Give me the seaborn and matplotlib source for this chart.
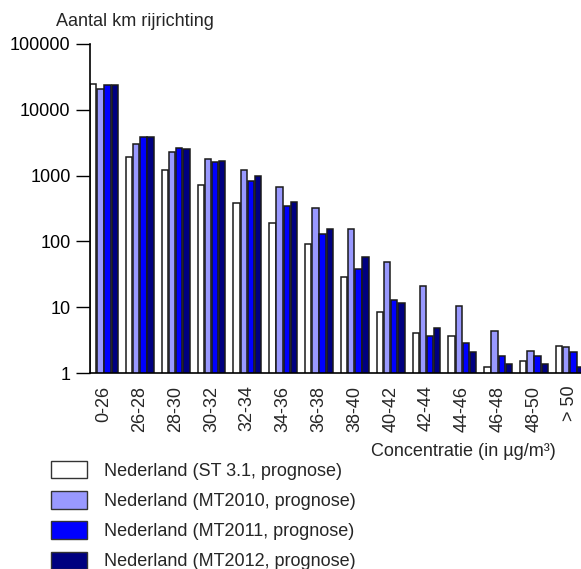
import matplotlib
matplotlib.use("Agg")
import matplotlib.pyplot as plt
import numpy as np
import pandas as pd
import seaborn as sns

# Data
categories = ["0-26", "26-28", "28-30", "30-32", "32-34", "34-36", "36-38",
              "38-40", "40-42", "42-44", "44-46", "46-48", "48-50", "> 50"]
series_names = ["Nederland (ST 3.1, prognose)", "Nederland (MT2010, prognose)",
                "Nederland (MT2011, prognose)", "Nederland (MT2012, prognose)"]
st31 = [25000, 1900, 1220, 710, 380, 190, 92, 29, 8.5, 4.0, 3.7, 1.22, 1.54, 2.56]
mt2010 = [20500, 3000, 2250, 1800, 1200, 660, 320, 154, 49, 21, 10.4, 4.4, 2.17, 2.45]
mt2011 = [23500, 3800, 2600, 1590, 840, 340, 128, 38, 13, 3.7, 2.9, 1.83, 1.83, 2.08]
mt2012 = [24000, 3800, 2550, 1650, 980, 400, 155, 58, 11.4, 4.9, 2.08, 1.35, 1.35, 1.22]
colors = ["#FFFFFF", "#9999FF", "#0000FF", "#000080"]
ytick_values = [1, 10, 100, 1000, 10000, 100000]


def main():
    df = pd.DataFrame({
        "cat": categories * 4,
        "serie": np.repeat(series_names, len(categories)),
        "waarde": st31 + mt2010 + mt2011 + mt2012,
    })

    sns.set_style("ticks")
    plt.rcParams["font.family"] = ["Liberation Sans", "DejaVu Sans"]
    fs = 13

    fig = plt.figure(figsize=(5.81, 5.69), dpi=100)
    ax = fig.add_axes([90 / 581, 1 - 373 / 569, 1 - 90 / 581, (373 - 44) / 569])
    ax.set_yscale("log")
    sns.barplot(data=df, x="cat", y="waarde", hue="serie", palette=colors,
                order=categories, hue_order=series_names, width=0.8, gap=0.12,
                edgecolor="#1a1a1a", linewidth=1.1, saturation=1, ax=ax,
                legend=False)

    ax.set_ylim(1, 100000)
    ax.set_xlim(-0.39, 13.31)
    ax.set_yticks(ytick_values)
    ax.set_yticklabels([str(v) for v in ytick_values], fontsize=fs)
    ax.yaxis.set_minor_locator(matplotlib.ticker.NullLocator())
    ax.tick_params(axis="y", length=10, width=1, pad=4, colors="black")
    ax.tick_params(axis="x", length=0, pad=9, labelsize=fs, labelrotation=90)
    ax.set_xlabel("")
    ax.set_ylabel("")
    sns.despine(ax=ax, top=True, right=True)
    for s in ["left", "bottom"]:
        ax.spines[s].set_linewidth(1.2)
        ax.spines[s].set_color("black")

    fig.text(135 / 581, 1 - 21 / 569, "Aantal km rijrichting", ha="center",
             va="center", fontsize=fs)
    fig.text(556 / 581, 1 - 452 / 569, "Concentratie (in µg/m³)", ha="right",
             va="center", fontsize=fs)

    handles = [matplotlib.patches.Patch(facecolor=c, edgecolor="#333333", linewidth=1)
               for c in colors]
    fig.legend(handles, series_names, loc="upper left",
               bbox_to_anchor=(51 / 581, 1 - 461 / 569), frameon=False,
               fontsize=fs, handlelength=2.0, handleheight=1.1,
               labelspacing=0.63, handletextpad=0.95, borderpad=0,
               borderaxespad=0)

    fig.savefig("out.png", dpi=100)


if __name__ == "__main__":
    main()
